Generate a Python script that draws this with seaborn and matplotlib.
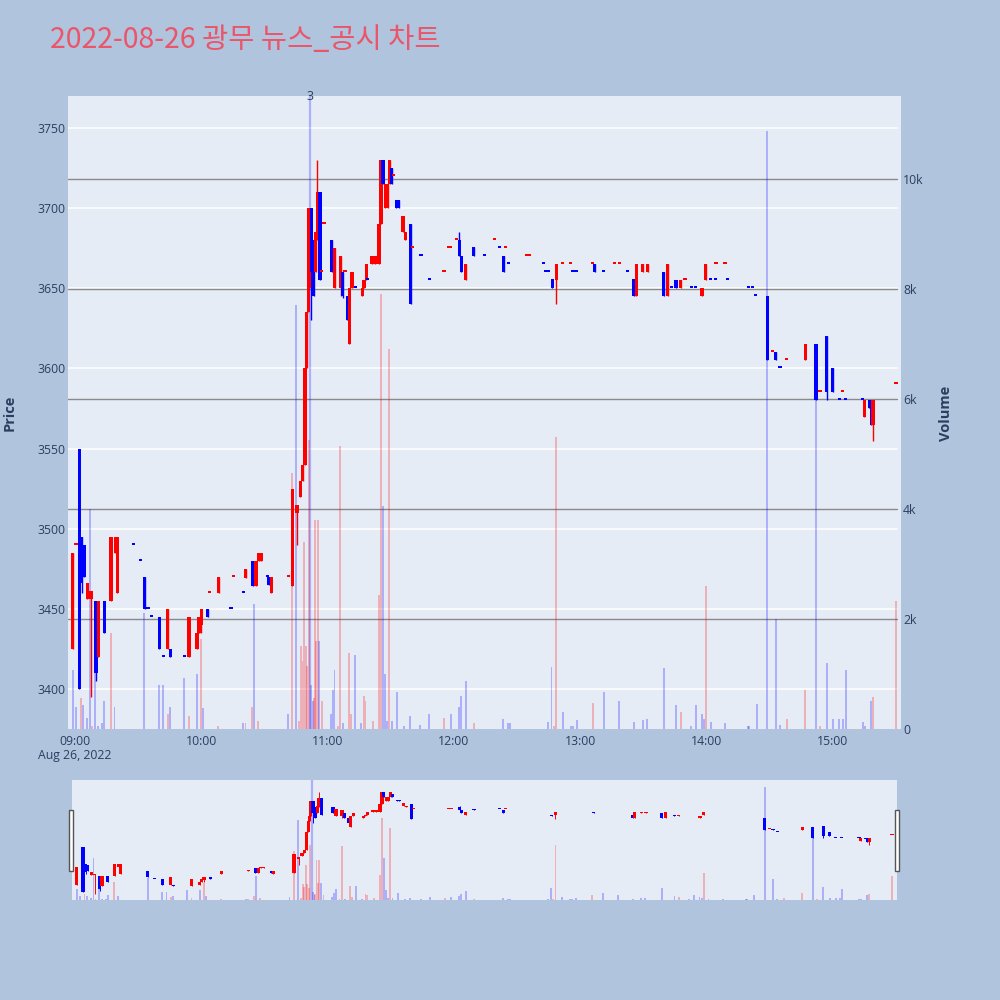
import matplotlib
matplotlib.use('Agg')
import matplotlib.pyplot as plt
import matplotlib.transforms as mtransforms
from matplotlib.patches import Rectangle
import seaborn as sns

# minutes after 09:00, open / high / low / close, direction (r = up, b = down)
c_min = [-1, 0.5, 2, 3.2, 4.3, 5.9, 7.6, 10, 11.1, 13.9, 17.1, 19.2, 20.1, 27.7, 31, 33.1, 34.7, 36.3,
         40, 42.1, 44, 45.3, 52.1, 54.2, 58, 58.9, 60, 63, 64.1, 68.3, 74.1, 75.2, 80, 81.2, 84.6, 86,
         87.3, 88.6, 91.4, 92.2, 93.2, 101.4, 103.2, 105.5, 107, 108.1, 109.3, 110.1, 110.8, 111.2,
         112.3, 113.4, 114.4, 115.1, 116.4, 117.3, 118.3, 121.9, 123.3, 126.2, 127.2, 128.3, 129.4,
         130.4, 131.6, 133.3, 136.4, 137.3, 138.3, 139, 141, 142.5, 144.4, 145.4, 146.3, 147.5, 148.5,
         149.5, 150.4, 151.5, 152.7, 153.7, 155.8, 157, 159.4, 160.4, 164.4, 168.3, 175.3, 177.5,
         178.5, 181.3, 182.6, 183.5, 185.6, 189.5, 194.4, 199.5, 201.6, 203.6, 204.6, 206, 214.5, 216,
         222.5, 223.8, 225, 226.8, 228.6, 231.7, 235.6, 236.6, 238.4, 245.9, 247, 251.1, 256.3, 258.7,
         262.6, 265.6, 266.7, 269.8, 272, 279.6, 281.5, 283.4, 285.5, 287.7, 289.8, 293, 294.9, 297.9,
         299.7, 302.1, 304.1, 304.5, 308.8, 309.9, 319.9, 322, 323.4, 328.9, 331.2, 332.9, 334.9,
         338.1, 346.9, 352, 353.9, 357.1, 360, 363, 364.8, 365.9, 374.2, 375, 377.4, 378.2, 379.1, 390]
c_open = [3425, 3490, 3550, 3495, 3490, 3456, 3456, 3455, 3420, 3455, 3455, 3485, 3460, 3490, 3480, 3470,
          3450, 3445, 3445, 3420, 3425, 3425, 3420, 3420, 3425, 3435, 3440, 3450, 3460, 3460, 3450, 3470,
          3460, 3469, 3480, 3464, 3480, 3480, 3470, 3470, 3460, 3470, 3464, 3510, 3520, 3530, 3540, 3600,
          3635, 3650, 3700, 3680, 3660, 3680, 3710, 3660, 3690, 3680, 3650, 3650, 3660, 3660, 3645,
          3615, 3650, 3650, 3645, 3650, 3655, 3655, 3665, 3665, 3665, 3690, 3730, 3700, 3700, 3715,
          3725, 3720, 3705, 3705, 3685, 3680, 3690, 3675, 3670, 3655, 3660, 3675, 3675, 3680, 3680,
          3670, 3655, 3676, 3670, 3680, 3675, 3670, 3675, 3665, 3670, 3670, 3665, 3660, 3660, 3656,
          3655, 3665, 3665, 3660, 3660, 3665, 3665, 3660, 3665, 3665, 3660, 3656, 3645, 3660, 3660,
          3660, 3645, 3650, 3655, 3650, 3655, 3650, 3650, 3645, 3655, 3655, 3655, 3665, 3665, 3655,
          3650, 3650, 3645, 3645, 3610, 3610, 3600, 3605, 3605, 3615, 3585, 3620, 3600, 3580, 3585,
          3580, 3580, 3570, 3580, 3580, 3565, 3590]
c_high = [3485, 3490, 3550, 3495, 3490, 3466, 3461, 3455, 3455, 3455, 3495, 3495, 3495, 3490, 3480, 3470,
          3450, 3445, 3445, 3420, 3450, 3425, 3420, 3445, 3435, 3445, 3450, 3450, 3460, 3470, 3450, 3470,
          3460, 3475, 3480, 3480, 3485, 3485, 3470, 3470, 3470, 3470, 3525, 3515, 3530, 3540, 3600, 3635,
          3650, 3700, 3700, 3680, 3685, 3730, 3710, 3660, 3690, 3680, 3675, 3670, 3660, 3660, 3645,
          3650, 3660, 3650, 3650, 3655, 3665, 3655, 3670, 3670, 3690, 3730, 3730, 3715, 3715, 3730,
          3725, 3720, 3705, 3705, 3695, 3685, 3690, 3675, 3670, 3655, 3660, 3675, 3675, 3680, 3685,
          3670, 3665, 3676, 3670, 3680, 3675, 3670, 3675, 3665, 3670, 3670, 3665, 3660, 3660, 3656,
          3665, 3665, 3665, 3660, 3660, 3665, 3665, 3660, 3665, 3665, 3660, 3656, 3665, 3665, 3665,
          3660, 3665, 3650, 3655, 3655, 3655, 3650, 3650, 3650, 3665, 3655, 3655, 3665, 3665, 3655,
          3650, 3650, 3645, 3645, 3610, 3610, 3600, 3605, 3615, 3615, 3585, 3620, 3600, 3580, 3585,
          3580, 3580, 3580, 3580, 3580, 3580, 3590]
c_low = [3425, 3490, 3400, 3460, 3470, 3456, 3395, 3405, 3420, 3435, 3455, 3485, 3460, 3490, 3480, 3450,
         3450, 3445, 3425, 3420, 3425, 3420, 3420, 3420, 3425, 3435, 3435, 3445, 3460, 3460, 3450, 3470,
         3460, 3469, 3464, 3464, 3480, 3480, 3470, 3465, 3460, 3470, 3464, 3490, 3520, 3530, 3540, 3600,
         3635, 3650, 3630, 3645, 3660, 3680, 3655, 3660, 3690, 3660, 3650, 3645, 3644, 3660, 3630,
         3615, 3650, 3650, 3645, 3650, 3655, 3655, 3665, 3665, 3665, 3690, 3715, 3700, 3700, 3715,
         3715, 3720, 3700, 3700, 3685, 3680, 3640, 3675, 3670, 3655, 3660, 3675, 3675, 3680, 3670,
         3660, 3655, 3670, 3670, 3680, 3675, 3660, 3675, 3665, 3670, 3670, 3665, 3660, 3660, 3650,
         3640, 3665, 3665, 3660, 3660, 3665, 3660, 3660, 3665, 3665, 3660, 3645, 3645, 3660, 3660,
         3645, 3645, 3650, 3650, 3650, 3655, 3650, 3650, 3645, 3655, 3655, 3655, 3665, 3665, 3655,
         3650, 3650, 3645, 3605, 3610, 3605, 3600, 3605, 3605, 3580, 3585, 3580, 3585, 3580, 3585,
         3580, 3580, 3570, 3575, 3565, 3555, 3590]
c_close = [3485, 3490, 3400, 3466, 3470, 3466, 3461, 3410, 3455, 3435, 3495, 3495, 3495, 3490, 3480, 3450,
           3450, 3445, 3425, 3420, 3450, 3420, 3420, 3445, 3435, 3445, 3450, 3445, 3460, 3470, 3450, 3470,
           3460, 3475, 3464, 3480, 3485, 3485, 3470, 3465, 3470, 3470, 3525, 3515, 3530, 3540, 3600, 3635,
           3650, 3700, 3660, 3645, 3685, 3710, 3655, 3660, 3690, 3660, 3675, 3670, 3645, 3660, 3630,
           3650, 3660, 3650, 3650, 3655, 3665, 3655, 3670, 3670, 3690, 3730, 3715, 3715, 3715, 3730,
           3715, 3720, 3700, 3700, 3695, 3685, 3640, 3675, 3670, 3655, 3660, 3675, 3675, 3680, 3670,
           3660, 3665, 3670, 3670, 3680, 3675, 3660, 3675, 3665, 3670, 3670, 3665, 3660, 3660, 3650,
           3665, 3665, 3665, 3660, 3660, 3665, 3660, 3660, 3665, 3665, 3660, 3645, 3665, 3665, 3665,
           3645, 3665, 3650, 3650, 3655, 3655, 3650, 3650, 3650, 3665, 3655, 3655, 3665, 3665, 3655,
           3650, 3650, 3645, 3605, 3610, 3605, 3600, 3605, 3615, 3580, 3585, 3585, 3585, 3580, 3585,
           3580, 3580, 3580, 3575, 3565, 3580, 3590]
c_dir = list('rrbbbrrbrb' 'rrrbbbbbbb' 'rbbrrrrbrr' 'brbrbrrrbb' 'rrrrrrrrrr'
             'bbrrbrrbrr' 'brbrrbrrrb' 'rrrrbrrrbr' 'bbrrbrbbrr' 'rrbbrbbrbb'
             'rbrrbbbbrr' 'rbbrbbrrbb' 'rrrbrbbrrb' 'brrbbrrbbb' 'bbrbbrrbrb'
             'bbrbbrbbrr')

# volume (thousands) per minute
v_min = [-1, 0.6, 2.7, 3.8, 5.9, 7, 8, 9.7, 11, 13, 13.8, 17, 18.8, 33, 40, 42, 44, 45, 52, 54, 58, 60, 61,
         68, 80, 81, 84, 85, 87, 101, 103, 105, 106.5, 107.5, 108.1, 109, 109.6, 110.3, 111, 112.3, 113,
         113.4, 114, 114.5, 115.3, 116, 117.3, 121.5, 122.4, 123.3, 125, 126, 127.5, 130, 131, 133, 136,
         137.5, 138, 141.5, 144.5, 145.5, 146.5, 147.4, 148.4, 149.3, 150.4, 153, 156.3, 159, 164,
         168.3, 175.4, 178.5, 182.4, 183.4, 185.6, 189.5, 203.5, 205.9, 206.7, 224.9, 226.4, 227.6,
         228.6, 231.7, 235.6, 236.4, 238.6, 246, 251.5, 258.6, 265.7, 269.7, 271.6, 279.7, 285.7, 287.7,
         292.5, 294.9, 297.7, 298.8, 299.8, 302, 308.8, 319.9, 320.3, 323.8, 328.9, 332.9, 334.9, 338.1,
         346.8, 352, 353.9, 357.1, 360.3, 363, 365, 366.1, 374.2, 375.3, 378, 379, 390]
v_k = [1.08, 0.4, 0.56, 0.43, 0.2, 4.0, 0.05, 1.9, 0.05, 0.1, 0.5, 1.75, 0.4, 2.1, 0.8, 0.8, 0.27, 0.4, 0.93,
       0.23, 1.0, 1.63, 0.38, 0.05, 0.1, 0.1, 0.4, 2.28, 0.15, 0.28, 4.65, 7.7, 0.15, 1.5, 1.23, 3.4, 1.5,
       1.15, 5.25, 0.8, 0.5, 0.57, 3.8, 1.6, 3.8, 1.6, 0.5, 0.27, 0.7, 1.08, 0.05, 5.15, 0.1, 1.38, 0.27,
       1.34, 0.1, 0.6, 0.5, 0.15, 2.44, 7.9, 4.06, 1.0, 0.15, 6.9, 0.15, 0.67, 0.06, 0.23, 0.08, 0.27, 0.2,
       0.27, 0.4, 0.6, 0.87, 0.1, 0.18, 0.1, 0.1, 0.13, 1.12, 0.05, 5.3, 0.3, 0.05, 0.05, 0.16, 0.47, 0.67,
       0.5, 0.13, 0.16, 0.19, 1.11, 0.43, 0.3, 0.05, 0.44, 0.27, 0.19, 2.6, 0.12, 0.1, 0.05, 0.05, 0.45,
       10.86, 2.0, 0.07, 0.19, 0.71, 7.0, 0.05, 1.2, 0.19, 0.19, 0.19, 1.08, 0.12, 0.05, 0.5, 0.58, 2.33]
v_dir = list('bbrbbbrbbb' 'brbbbbrbbr' 'brbrbrrbrb' 'rbrrrrrrrb' 'brrrrbrbbb'
             'rrbrrbbrrr' 'rrbbbrbbbb' 'bbrbbbbrbb' 'bbbrrbbbbr' 'bbbbbbbrbb'
             'bbrbbbbbbb' 'brrbrbbbbb' 'bbbrr')

# news markers
news_min = [111.8]
news_txt = ['3']

title = '2022-08-26 광무 뉴스_공시 차트'
hour_labels = ['09:00\nAug 26, 2022', '10:00', '11:00', '12:00', '13:00', '14:00', '15:00']
price_ticks = [3400, 3450, 3500, 3550, 3600, 3650, 3700, 3750]
vol_ticks = [0, 2, 4, 6, 8, 10]

UP, DOWN = '#FF0000', '#0000FF'
TXT = '#2a3f5f'
BG = '#B0C4DE'
PLOT_BG = '#E5ECF6'

sns.set_theme(style='white')
plt.rcParams['font.family'] = ['Open Sans', 'DejaVu Sans']

fig = plt.figure(figsize=(10, 10), dpi=100, facecolor=BG)


def draw(ax_v, ax_p, body_w, wick_lw, vol_w):
    col = [UP if d == 'r' else DOWN for d in c_dir]
    vcol = [UP if d == 'r' else DOWN for d in v_dir]
    ax_v.bar(v_min, v_k, width=vol_w, color=vcol, alpha=0.25, linewidth=0, zorder=2)
    for t in news_min:
        ax_v.axvline(t, color=DOWN, alpha=0.25, lw=1.6, zorder=2)
    ax_p.vlines(c_min, c_low, c_high, colors=col, lw=wick_lw, zorder=3)
    bottoms = [min(o, c) for o, c in zip(c_open, c_close)]
    heights = [max(abs(c - o), 1.3) for o, c in zip(c_open, c_close)]
    ax_p.bar(c_min, heights, bottom=bottoms, width=body_w, color=col, linewidth=0, zorder=4)
    ax_p.set_ylim(3375, 3770)
    ax_v.set_ylim(0, 11.5)
    ax_v.set_xlim(-3.3, 392.4)


# main chart
ax_v = fig.add_axes([0.068, 0.271, 0.833, 0.633])
ax_p = ax_v.twinx()
ax_v.set_facecolor(PLOT_BG)
ax_p.patch.set_visible(False)
for a in (ax_v, ax_p):
    for s in a.spines.values():
        s.set_visible(False)

draw(ax_v, ax_p, 1.5, 1.0, 0.9)

# price grid lines (white) under the volume bars
blend = mtransforms.blended_transform_factory(ax_v.transAxes, ax_p.transData)
for p in price_ticks:
    ax_v.plot([0, 0.995], [p, p], color='white', lw=1.1, transform=blend, zorder=0.6)
# volume grid lines (grey)
for v in vol_ticks[1:]:
    ax_v.plot([0, 0.995], [v, v], color='#8a8a8a', lw=1.0, transform=ax_v.get_yaxis_transform(), zorder=0.7)

ax_p.yaxis.tick_left()
ax_v.yaxis.tick_right()
ax_p.set_yticks(price_ticks)
ax_p.set_yticklabels([str(p) for p in price_ticks])
ax_v.set_yticks(vol_ticks)
ax_v.set_yticklabels(['0'] + [f'{v}k' for v in vol_ticks[1:]])
ax_v.set_xticks([0, 60, 120, 180, 240, 300, 360])
ax_v.set_xticklabels(hour_labels, linespacing=1.15)
ax_p.tick_params(axis='y', length=0, pad=1.5, labelsize=8.8, labelcolor=TXT)
ax_v.tick_params(axis='y', length=0, pad=1.5, labelsize=8.8, labelcolor=TXT)
ax_v.tick_params(axis='x', length=0, pad=4, labelsize=8.8, labelcolor=TXT)
ax_v.grid(False)
ax_p.grid(False)

for t, s in zip(news_min, news_txt):
    ax_p.text(t, 1.0, s, transform=ax_p.get_xaxis_transform(), ha='center', va='center',
              fontsize=9, color=TXT)

fig.text(0.05, 0.96, title, fontsize=20.5, color='#EB5569', ha='left', va='center',
         family=['Noto Sans CJK KR', 'DejaVu Sans'])
fig.text(0.010, 0.587, 'Price', rotation=90, fontsize=10.5, fontweight='bold', color=TXT,
         ha='center', va='center')
fig.text(0.946, 0.587, 'Volume', rotation=90, fontsize=10.5, fontweight='bold', color=TXT,
         ha='center', va='center')

# range slider
sl_v = fig.add_axes([0.072, 0.100, 0.825, 0.120])
sl_p = sl_v.twinx()
sl_v.set_facecolor(PLOT_BG)
sl_p.patch.set_visible(False)
for a in (sl_v, sl_p):
    for s in a.spines.values():
        s.set_visible(False)
    a.set_xticks([])
    a.set_yticks([])
    a.grid(False)
draw(sl_v, sl_p, 1.5, 0.7, 0.9)

for x0 in (0.069, 0.895):
    fig.add_artist(Rectangle((x0, 0.129), 0.004, 0.061, transform=fig.transFigure,
                             facecolor='white', edgecolor='#555555', lw=1))

fig.savefig('out.png', dpi=100, facecolor=BG)
